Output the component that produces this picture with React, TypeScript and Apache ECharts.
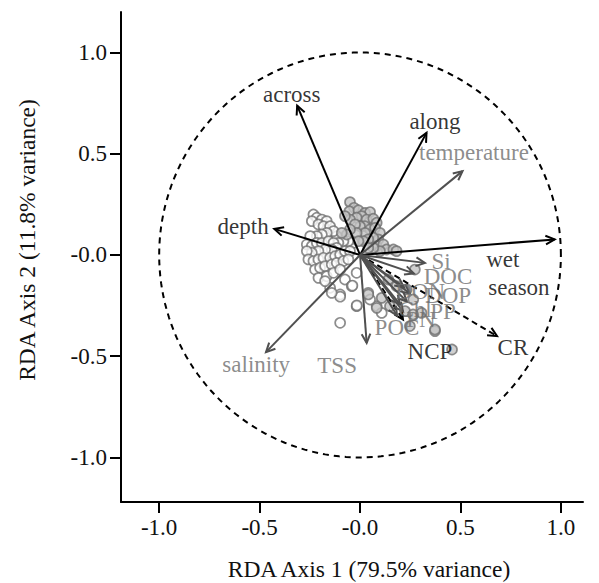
import React, { useEffect, useRef } from "react";
import * as echarts from "echarts";

// ---- tick values ----
const xTicks = [-1.0, -0.5, 0.0, 0.5, 1.0];
const yTicks = [-1.0, -0.5, 0.0, 0.5, 1.0];

// ---- biplot arrows (tips) : kind 0 = black, 1 = black dashed, 2 = grey ----
const arrowNames = ["across", "along", "depth", "wet season", "CR", "NCP", "temperature", "salinity", "TSS", "Si", "DOC", "DON", "DOP", "Chl", "PP", "PN", "POC"];
const arrowX = [-0.313, 0.331, -0.427, 0.969, 0.682, 0.214, 0.51, -0.468, 0.033, 0.323, 0.268, 0.219, 0.248, 0.199, 0.233, 0.214, 0.184];
const arrowY = [0.738, 0.603, 0.129, 0.077, -0.401, -0.319, 0.414, -0.48, -0.434, -0.039, -0.091, -0.16, -0.19, -0.244, -0.23, -0.279, -0.299];
const arrowKind = [0, 0, 0, 0, 1, 1, 2, 2, 2, 2, 2, 2, 2, 2, 2, 2, 2];

// ---- arrow labels ----
const labelNames = ["across", "along", "temperature", "depth", "wet", "season", "CR", "NCP", "TSS", "salinity", "Si", "DOC", "DON", "DOP", "Chl", "PP", "PN", "POC"];
const labelX = [-0.34, 0.373, 0.567, -0.582, 0.711, 0.791, 0.761, 0.348, -0.114, -0.517, 0.403, 0.438, 0.299, 0.438, 0.274, 0.413, 0.303, 0.184];
const labelY = [0.793, 0.659, 0.506, 0.141, -0.022, -0.16, -0.457, -0.477, -0.546, -0.541, -0.032, -0.106, -0.18, -0.2, -0.269, -0.279, -0.319, -0.358];
const labelGrey = [0, 0, 1, 0, 0, 0, 0, 0, 1, 1, 1, 1, 1, 1, 1, 1, 1, 1];

// ---- sample scores ----
const filledPts: number[][] = [
  [-0.05, 0.261], [-0.03, 0.233], [-0.053, 0.216], [-0.008, 0.221], [0.025, 0.208], [0.05, 0.212],
  [0.008, 0.192], [-0.017, 0.184], [0.033, 0.175], [0.066, 0.179], [0.083, 0.159], [-0.05, 0.175],
  [-0.075, 0.192], [0.025, 0.142], [0.0, 0.142], [-0.025, 0.151], [0.05, 0.126], [0.075, 0.134],
  [0.099, 0.109], [0.025, 0.109], [-0.017, 0.109], [-0.05, 0.126], [-0.066, 0.101], [-0.091, 0.109],
  [0.091, 0.077], [0.066, 0.085], [0.041, 0.077], [0.017, 0.068], [-0.008, 0.068],
  [0.083, 0.044], [0.116, 0.052], [0.132, 0.027], [0.166, 0.027], [0.099, 0.019], [0.066, 0.035], [0.041, 0.035],
  [0.273, -0.072], [0.182, 0.019], [0.182, -0.154], [0.232, -0.17], [0.265, -0.22], [0.306, -0.286],
  [0.373, -0.376], [0.248, -0.351], [0.224, -0.277], [0.149, -0.253], [0.141, -0.121], [0.458, -0.467],
  [0.373, -0.368], [0.264, -0.294], [0.108, -0.212], [0.041, -0.195], [0.083, -0.261]
];
const openPts: number[][] = [
  [-0.116, 0.093], [-0.033, 0.06], [-0.058, 0.068], [-0.083, 0.068], [-0.108, 0.06],
  [-0.232, 0.2], [-0.215, 0.184], [-0.19, 0.175], [-0.166, 0.167], [-0.24, 0.167], [-0.207, 0.151],
  [-0.182, 0.142], [-0.149, 0.142], [-0.132, 0.118], [-0.166, 0.109], [-0.19, 0.101], [-0.215, 0.093],
  [-0.248, 0.093], [-0.265, 0.052], [-0.24, 0.044], [-0.215, 0.06], [-0.19, 0.06], [-0.157, 0.068],
  [-0.132, 0.06], [-0.116, 0.035], [-0.141, 0.027], [-0.174, 0.027], [-0.207, 0.019], [-0.24, 0.011],
  [-0.265, 0.019], [-0.257, -0.022], [-0.232, -0.03], [-0.207, -0.022], [-0.182, -0.014], [-0.149, -0.014],
  [-0.124, -0.006], [-0.099, 0.002], [-0.075, 0.019], [-0.05, 0.019], [-0.224, -0.072], [-0.199, -0.063],
  [-0.174, -0.055], [-0.141, -0.047], [-0.116, -0.039], [-0.083, -0.03], [-0.058, -0.022], [-0.207, -0.113],
  [-0.166, -0.105], [-0.132, -0.088], [-0.099, -0.072], [-0.149, -0.162], [-0.099, -0.195], [-0.075, -0.121],
  [-0.041, -0.154], [-0.017, -0.088], [0.041, -0.187], [0.083, -0.253], [0.108, -0.286], [-0.099, -0.335],
  [-0.017, -0.253], [0.05, -0.22], [-0.016, -0.249], [-0.038, -0.151], [-0.099, -0.206], [-0.141, -0.187],
  [-0.174, -0.129]
];

const FONT = "Liberation Serif";
const FS = 23;
const fmt = (v: number) => (Math.abs(v) < 1e-9 ? "-0.0" : v.toFixed(1));

export default function App() {
  const ref = useRef<HTMLDivElement>(null);
  useEffect(() => {
    if (!ref.current) return;
    const chart = echarts.init(ref.current, null, { renderer: "svg" });
    const arrowData = arrowX.map((x, i) => ({ name: arrowNames[i], value: [x, arrowY[i], arrowKind[i]] }));
    const mkLabels = (grey: number) =>
      labelNames
        .map((n, i) => ({ name: n, value: [labelX[i], labelY[i]], g: labelGrey[i] }))
        .filter((d) => d.g === grey)
        .map((d) => ({ name: d.name, value: d.value }));
    const ptStyle = (fill: string) => ({ color: fill, borderColor: "#707070", borderWidth: 1.7 });
    chart.setOption({
      animation: false,
      backgroundColor: "#fff",
      textStyle: { fontFamily: FONT },
      grid: { left: 121, top: 12, right: 16, bottom: 81 },
      xAxis: {
        type: "value", min: -1.19, max: 1.11,
        axisLine: { show: true, onZero: false, lineStyle: { color: "#000", width: 2 } },
        axisTick: { show: true, length: 11, customValues: xTicks, lineStyle: { color: "#000", width: 2 } },
        axisLabel: { customValues: xTicks, formatter: fmt, fontSize: FS, fontFamily: FONT, color: "#111", margin: 14 },
        splitLine: { show: false },
      },
      yAxis: {
        type: "value", min: -1.22, max: 1.2,
        axisLine: { show: true, onZero: false, lineStyle: { color: "#000", width: 2 } },
        axisTick: { show: true, length: 11, customValues: yTicks, lineStyle: { color: "#000", width: 2 } },
        axisLabel: { customValues: yTicks, formatter: fmt, fontSize: FS, fontFamily: FONT, color: "#111", margin: 14 },
        splitLine: { show: false },
      },
      graphic: [
        { type: "text", x: 369, y: 569, style: { text: "RDA Axis 1 (79.5% variance)", fontSize: 23.5, fontFamily: FONT, fill: "#111", textAlign: "center", textVerticalAlign: "middle" } },
        { type: "text", x: 27, y: 240, rotation: Math.PI / 2, style: { text: "RDA Axis 2 (11.8% variance)", fontSize: 23.5, fontFamily: FONT, fill: "#111", textAlign: "center", textVerticalAlign: "middle" } },
      ],
      series: [
        {
          type: "custom", z: 1, silent: true, data: [[0, 0]],
          renderItem: (params: any, api: any) => {
            const pts: number[][] = [];
            for (let k = 0; k <= 180; k++) {
              const t = (k / 180) * Math.PI * 2;
              pts.push(api.coord([Math.cos(t), Math.sin(t)]));
            }
            return { type: "polyline", shape: { points: pts }, style: { stroke: "#000", lineWidth: 2, lineDash: [6, 5], fill: null } };
          },
        },
        { type: "scatter", z: 2, symbol: "circle", symbolSize: 10, data: openPts, itemStyle: ptStyle("#ffffff") },
        { type: "scatter", z: 2, symbol: "circle", symbolSize: 10, data: filledPts, itemStyle: ptStyle("#c4c4c4") },
        {
          type: "custom", z: 3, silent: true, data: arrowData,
          renderItem: (params: any, api: any) => {
            const kind = api.value(2);
            const p0 = api.coord([0, 0]);
            const p1 = api.coord([api.value(0), api.value(1)]);
            const ang = Math.atan2(p1[1] - p0[1], p1[0] - p0[0]);
            const L = 10, a = 0.45;
            const h1 = [p1[0] - L * Math.cos(ang - a), p1[1] - L * Math.sin(ang - a)];
            const h2 = [p1[0] - L * Math.cos(ang + a), p1[1] - L * Math.sin(ang + a)];
            const color = kind === 2 ? "#505050" : "#000000";
            return {
              type: "group",
              children: [
                { type: "line", shape: { x1: p0[0], y1: p0[1], x2: p1[0], y2: p1[1] }, style: { stroke: color, lineWidth: 2, lineDash: kind === 1 ? [6, 4] : null } },
                { type: "polyline", shape: { points: [h1, p1, h2] }, style: { stroke: color, lineWidth: 2, fill: null } },
              ],
            };
          },
        },
        {
          type: "scatter", z: 4, symbolSize: 0, silent: true, data: mkLabels(1),
          label: { show: true, position: "inside", formatter: "{b}", fontSize: FS, fontFamily: FONT, color: "#6e6e6e" },
        },
        {
          type: "scatter", z: 5, symbolSize: 0, silent: true, data: mkLabels(0),
          label: { show: true, position: "inside", formatter: "{b}", fontSize: FS, fontFamily: FONT, color: "#000" },
        },
      ],
    });
    return () => chart.dispose();
  }, []);
  return <div ref={ref} style={{ position: "absolute", left: 0, top: 0, width: 599, height: 583, background: "#fff" }} />;
}
